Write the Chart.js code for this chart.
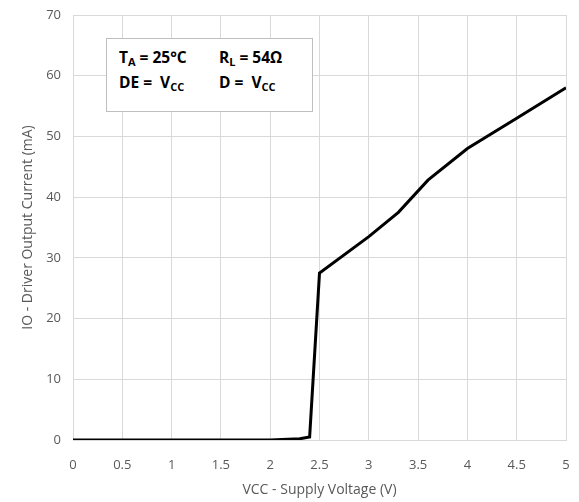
<!DOCTYPE html>
<html>
<head>
<meta charset="utf-8">
<script src="https://cdn.jsdelivr.net/npm/chart.js@4"></script>
<style>
  html, body { margin: 0; padding: 0; background: #fff; }
  #wrap { position: relative; width: 579px; height: 502px; }
  #note {
    position: absolute; left: 106px; top: 38px; width: 207px; height: 74px;
    border: 1px solid #bfbfbf; background: #fff; box-sizing: border-box;
    font-family: "Open Sans", "Liberation Sans", sans-serif; font-weight: bold;
    font-size: 15.5px; color: #000; padding: 6px 0 0 12px; line-height: 25px;
  }
  #note sub { font-size: 11px; vertical-align: -3px; line-height: 0; }
  #note .c2 { display: inline-block; position: absolute; left: 112px; }
</style>
</head>
<body>
<div id="wrap">
  <canvas id="chart" width="579" height="502"></canvas>
  <div id="note">
    <div>T<sub>A</sub> = 25°C <span class="c2">R<sub>L</sub> = 54Ω</span></div>
    <div>DE = &nbsp;V<sub>CC</sub> <span class="c2">D = &nbsp;V<sub>CC</sub></span></div>
  </div>
</div>
<script>
const vcc = [0, 2, 2.3, 2.4, 2.5, 3, 3.3, 3.6, 4, 4.5, 5];
const io = [0, 0, 0.2, 0.5, 27.5, 33.5, 37.5, 42.8, 48, 53, 58];
const xTitle = "VCC - Supply Voltage (V)";
const yTitle = "IO - Driver Output Current (mA)";

const font = { family: "'Open Sans', 'Liberation Sans', sans-serif", size: 13 };
const grey = "#595959";

new Chart(document.getElementById("chart"), {
  type: "scatter",
  data: {
    datasets: [{
      data: vcc.map((v, i) => ({ x: v, y: io[i] })),
      showLine: true, borderColor: "#000", borderWidth: 3,
      pointRadius: 0, tension: 0, fill: false,
    }],
  },
  options: {
    responsive: false, animation: false,
    layout: { padding: { top: 15, right: 13, left: 0, bottom: 0 } },
    plugins: { legend: { display: false }, tooltip: { enabled: false } },
    scales: {
      x: {
        type: "linear", min: 0, max: 5,
        ticks: { stepSize: 0.5, color: grey, font, padding: 17, callback: (v) => String(v) },
        grid: { color: "#d9d9d9", drawTicks: false },
        border: { color: "#d9d9d9" },
        title: { display: true, text: xTitle, color: grey, font: { ...font, size: 14 }, padding: { top: 4 } },
        afterFit: (s) => { s.height = 62; s.paddingRight = 0; s.paddingLeft = 0; },
      },
      y: {
        min: 0, max: 70,
        ticks: { stepSize: 10, color: grey, font, padding: 12 },
        grid: { color: "#d9d9d9", drawTicks: false },
        border: { color: "#d9d9d9" },
        title: { display: true, text: yTitle, color: grey, font: { ...font, size: 14 }, padding: { top: 20, bottom: 0 } },
        afterFit: (s) => { s.width = 73; s.paddingTop = 0; s.paddingBottom = 0; },
      },
    },
  },
});
</script>
</body>
</html>
